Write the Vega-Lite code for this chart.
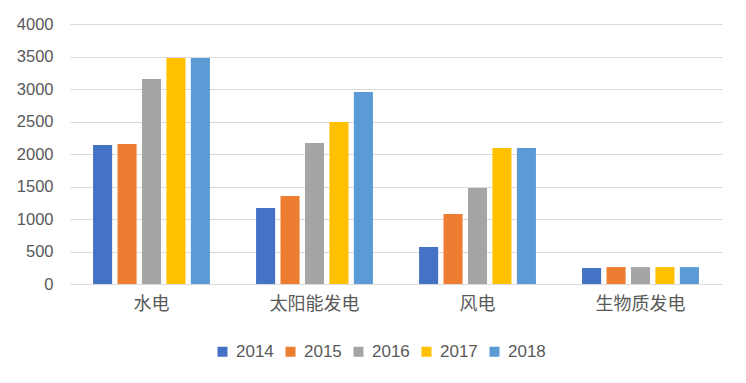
{
  "$schema": "https://vega.github.io/schema/vega-lite/v6.json",
  "width": 652,
  "height": 260,
  "autosize": {"type": "none"},
  "padding": {"left": 70, "top": 24, "right": 24, "bottom": 99},
  "background": "white",
  "data": {
    "values": [
      {"type": "水电", "year": "2014", "value": 2138},
      {"type": "水电", "year": "2015", "value": 2154},
      {"type": "水电", "year": "2016", "value": 3154},
      {"type": "水电", "year": "2017", "value": 3477},
      {"type": "水电", "year": "2018", "value": 3477},
      {"type": "太阳能发电", "year": "2014", "value": 1169},
      {"type": "太阳能发电", "year": "2015", "value": 1354},
      {"type": "太阳能发电", "year": "2016", "value": 2169},
      {"type": "太阳能发电", "year": "2017", "value": 2492},
      {"type": "太阳能发电", "year": "2018", "value": 2954},
      {"type": "风电", "year": "2014", "value": 569},
      {"type": "风电", "year": "2015", "value": 1077},
      {"type": "风电", "year": "2016", "value": 1477},
      {"type": "风电", "year": "2017", "value": 2092},
      {"type": "风电", "year": "2018", "value": 2092},
      {"type": "生物质发电", "year": "2014", "value": 246},
      {"type": "生物质发电", "year": "2015", "value": 260},
      {"type": "生物质发电", "year": "2016", "value": 260},
      {"type": "生物质发电", "year": "2017", "value": 260},
      {"type": "生物质发电", "year": "2018", "value": 260}
    ]
  },
  "mark": {"type": "bar"},
  "encoding": {
    "x": {
      "field": "type",
      "type": "nominal",
      "sort": ["水电", "太阳能发电", "风电", "生物质发电"],
      "scale": {"paddingInner": 0.25, "paddingOuter": 0.125},
      "axis": {
        "title": null,
        "labelAngle": 0,
        "ticks": false,
        "domainColor": "#D9D9D9",
        "domainWidth": 1,
        "labelFont": "Noto Sans CJK SC",
        "labelFontSize": 18,
        "labelColor": "#595959",
        "labelPadding": 11
      }
    },
    "xOffset": {
      "field": "year",
      "type": "nominal",
      "scale": {"paddingInner": 0.22, "paddingOuter": 0.11}
    },
    "y": {
      "field": "value",
      "type": "quantitative",
      "scale": {"domain": [0, 4000], "nice": false},
      "axis": {
        "title": null,
        "format": "d",
        "values": [0, 500, 1000, 1500, 2000, 2500, 3000, 3500, 4000],
        "domain": false,
        "ticks": false,
        "gridColor": "#D9D9D9",
        "gridWidth": 1,
        "labelFont": "Liberation Sans",
        "labelFontSize": 16.5,
        "labelColor": "#595959",
        "labelPadding": 17
      }
    },
    "color": {
      "field": "year",
      "type": "nominal",
      "scale": {
        "domain": ["2014", "2015", "2016", "2017", "2018"],
        "range": ["#4472C4", "#ED7D31", "#A5A5A5", "#FFC000", "#5B9BD5"]
      },
      "legend": {
        "title": null,
        "orient": "none",
        "legendX": 144,
        "legendY": 319,
        "direction": "horizontal",
        "symbolType": "square",
        "symbolSize": 100,
        "symbolStrokeWidth": 0,
        "symbolOpacity": 1,
        "labelFont": "Liberation Sans",
        "labelFontSize": 17,
        "labelColor": "#595959",
        "labelOffset": 5,
        "columnPadding": 8
      }
    }
  },
  "config": {
    "view": {"stroke": null}
  }
}
